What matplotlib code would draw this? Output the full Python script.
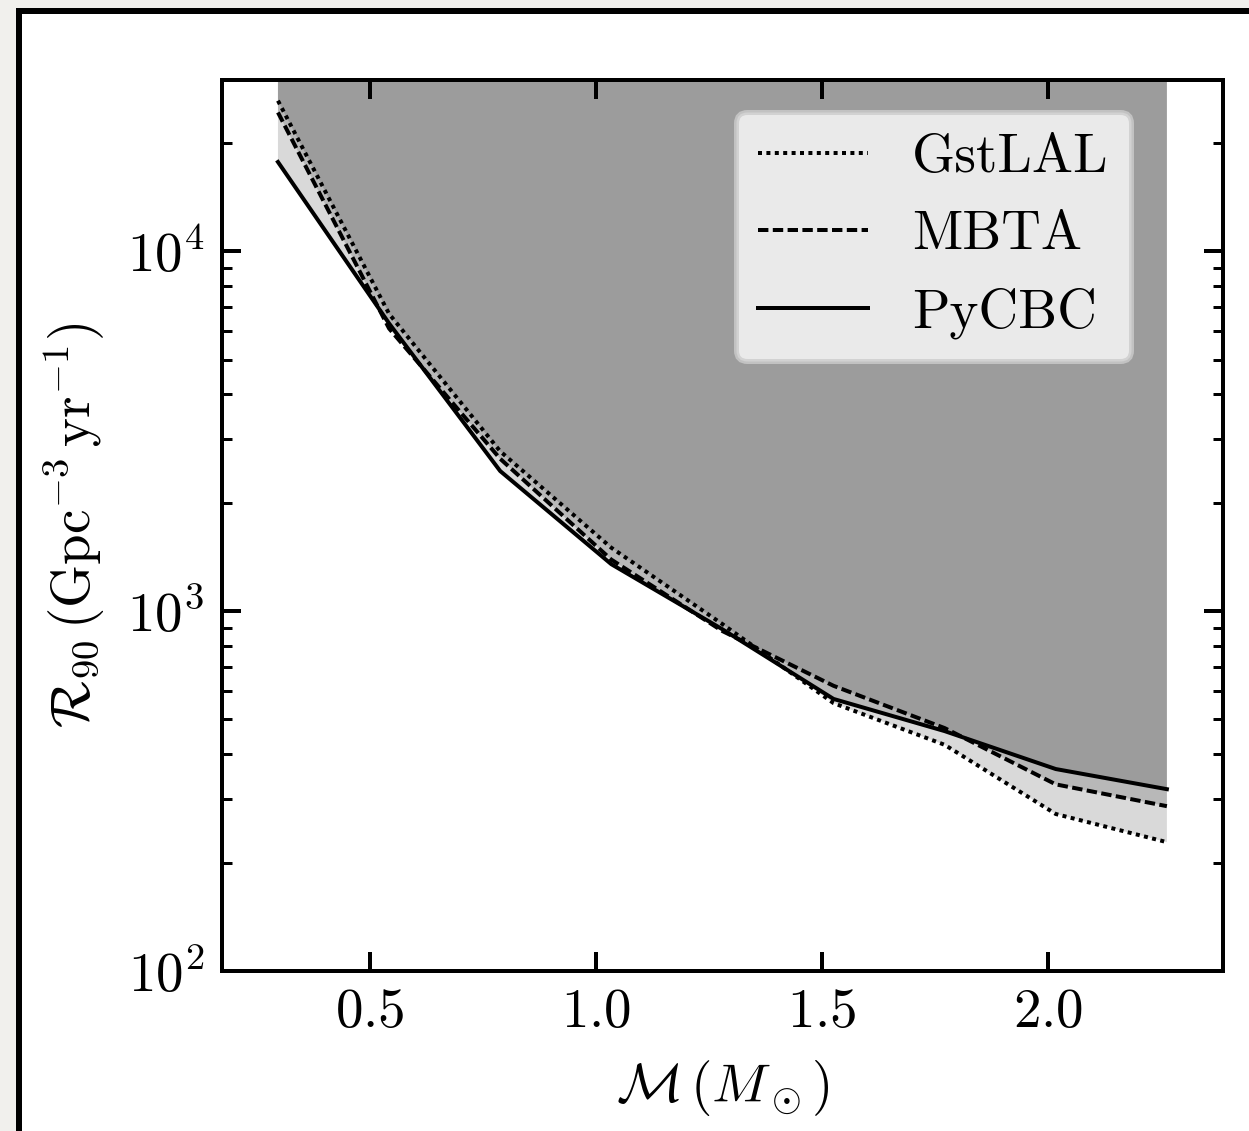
import matplotlib
matplotlib.use('Agg')
import matplotlib.pyplot as plt
from matplotlib.patches import Rectangle
from matplotlib.ticker import FixedLocator

plt.rcParams['font.family'] = 'serif'
plt.rcParams['font.serif'] = ['cmr10']
plt.rcParams['mathtext.fontset'] = 'cm'
plt.rcParams['axes.unicode_minus'] = False
plt.rcParams['axes.formatter.use_mathtext'] = True

# chirp mass (M_sun) and 90% rate upper limits (Gpc^-3 yr^-1)
chirp_mass = [0.296, 0.542, 0.788, 1.034, 1.280, 1.526, 1.772, 2.018, 2.264]
gstlal = [26200, 6700, 2780, 1500, 920, 555, 425, 273, 228]
mbta = [24300, 6100, 2650, 1390, 880, 620, 473, 330, 287]
pycbc = [17700, 6300, 2450, 1350, 890, 570, 464, 364, 320]

pipelines = ['GstLAL', 'MBTA', 'PyCBC']
styles = [(0, (1, 1.1)), (0, (2.6, 1.1)), '-']

fig = plt.figure(figsize=(1249/360, 1131/360), dpi=360, facecolor='#f1f0ed')
# slide frame around the plot
fig.patches.append(Rectangle((0.0156, -0.1), 1.2, 1.0907, transform=fig.transFigure,
                             facecolor='white', edgecolor='black', lw=1.2, zorder=-1))

ax = fig.add_axes([0.1777, 0.1415, 0.8014, 0.7882])

for name, y, ls in zip(pipelines, [gstlal, mbta, pycbc], styles):
	ax.fill_between(chirp_mass, y, 1e6, color='k', alpha=0.15, lw=0)
	ax.plot(chirp_mass, y, color='k', lw=0.8, linestyle=ls, label=name)

ax.set_yscale('log')
ax.set_xlim(0.172, 2.388)
ax.set_ylim(100, 3.0e4)
ax.xaxis.set_major_locator(FixedLocator([0.5, 1.0, 1.5, 2.0]))

for s in ax.spines.values():
	s.set_linewidth(0.8)
ax.tick_params(which='both', direction='in', top=True, right=True, labelsize=11)
ax.tick_params(which='major', length=3.8, width=0.8)
ax.tick_params(which='minor', length=2.0, width=0.6)

ax.set_xlabel(r'$\mathcal{M}\,(M_\odot)$', fontsize=11)
ax.set_ylabel(r'$\mathcal{R}_{90}\,(\mathrm{Gpc}^{-3}\,\mathrm{yr}^{-1})$', fontsize=11)

ax.legend(loc='upper right', bbox_to_anchor=(0.908, 0.964), borderaxespad=0, fontsize=11)

fig.savefig('out.png', dpi=360, facecolor=fig.get_facecolor())
